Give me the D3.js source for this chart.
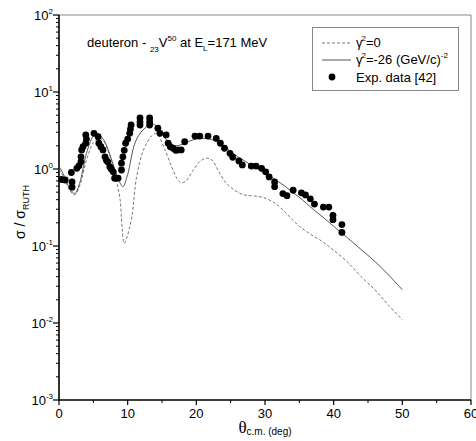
<!DOCTYPE html>
<html>
<head>
<meta charset="utf-8">
<script src="https://d3js.org/d3.v7.min.js"></script>
<style>
	body { margin: 0; background: #fff; }
	text { font-family: "Liberation Sans", Arial, sans-serif; }
</style>
</head>
<body>
<div id="chart"></div>
<script>
// experimental points [theta, sigma/sigma_ruth]
var expTheta = [0.4,0.9,1.8,1.9,1.9,2.6,2.9,3.2,3.2,3.3,3.5,3.9,3.9,4.0,5.1,5.7,5.8,6.1,6.4,6.7,6.9,7.1,7.4,7.6,7.9,8.1,8.3,8.6,9.1,9.1,9.3,9.5,9.7,10.0,10.3,10.4,10.5,11.8,11.8,11.8,13.2,13.2,13.2,14.4,14.7,15.6,15.9,16.2,16.6,17.0,17.3,17.8,18.3,19.8,20.5,21.7,22.9,23.5,24.1,24.9,25.3,26.2,26.7,28.0,28.7,29.5,30.1,30.6,31.4,31.4,32.6,33.2,34.1,35.3,35.9,36.6,37.2,38.5,39.3,39.9,39.9,41.2,41.2];
var expSigma = [0.73,0.72,0.90,0.68,0.58,1.02,1.10,1.24,1.44,1.77,1.95,2.16,2.77,2.45,2.91,2.63,2.16,1.95,1.77,1.44,1.30,1.24,1.07,1.00,0.92,0.76,0.76,0.76,0.97,1.19,1.44,1.75,2.16,2.45,2.91,3.3,3.73,4.6,4.1,3.73,4.6,4.1,3.73,3.38,2.91,2.77,2.16,1.95,1.86,1.75,1.77,1.77,2.26,2.68,2.68,2.68,2.5,2.16,1.86,1.6,1.42,1.27,1.13,1.09,1.09,1.02,0.92,0.79,0.68,0.59,0.48,0.45,0.53,0.49,0.46,0.41,0.35,0.32,0.32,0.25,0.22,0.19,0.15];

// gamma^2 = -26 (GeV/c)^-2
var solidTheta = [0,0.8,1.6,2.3,3.0,4.0,5.0,5.5,6.5,7.5,8.5,9.3,10.0,11.0,11.8,12.7,13.5,14.2,15.0,16.0,16.9,18.0,19.0,20.0,21.0,22.0,23.0,24.0,25.0,26.0,27.0,28.0,29.0,30.0,31.0,32.0,33.0,34.0,35.0,36.0,37.0,38.0,39.0,40.0,42.0,44.0,46.0,48.0,50.0];
var solidSigma = [1.09,0.8,0.55,0.48,0.65,1.6,2.7,2.9,2.4,1.45,0.8,0.59,0.85,2.1,2.9,3.5,3.9,3.6,2.9,2.2,2.0,2.1,2.3,2.45,2.5,2.45,2.25,1.95,1.7,1.45,1.28,1.12,1.0,0.88,0.78,0.68,0.59,0.5,0.43,0.36,0.3,0.255,0.215,0.18,0.128,0.09,0.063,0.042,0.027];

// gamma^2 = 0
var dashTheta = [0,0.8,1.6,2.3,3.0,4.0,5.0,5.8,6.5,7.5,8.3,8.9,9.2,9.5,9.9,10.6,11.3,12.3,13.5,14.2,15.4,16.4,17.2,17.8,18.5,19.5,20.5,21.5,22.3,23.2,24.2,25.0,26.0,27.0,28.0,29.0,30.0,31.0,32.0,33.0,34.0,35.0,36.0,37.0,38.0,39.0,40.0,42.0,44.0,46.0,48.0,50.0];
var dashSigma = [1.0,0.75,0.52,0.46,0.6,1.3,2.2,2.5,2.3,1.4,0.75,0.4,0.17,0.108,0.13,0.24,0.79,1.77,2.7,2.9,1.8,1.07,0.75,0.66,0.7,0.95,1.25,1.38,1.3,0.95,0.68,0.58,0.5,0.46,0.45,0.44,0.42,0.38,0.33,0.27,0.22,0.18,0.155,0.135,0.12,0.103,0.088,0.062,0.04,0.027,0.017,0.011];

var xTicks = [0,10,20,30,40,50,60];
var yDecades = [-3,-2,-1,0,1,2];

var w = 476,
	h = 441,
	svg = d3
		.select("#chart")
		.append("svg")
		.attr("width", w)
		.attr("height", h);

var margin = { top: 15, right: 5, bottom: 41, left: 59 };
var x = d3.scaleLinear().domain([0, 60]).range([margin.left, w - margin.right]);
var y = d3.scaleLog().domain([1e-3, 1e2]).range([h - margin.bottom, margin.top]);

// frame (top + right)
svg.append("path")
	.attr("d", `M${x(0)},${y(100)}H${x(60)}V${y(1e-3)}`)
	.attr("fill", "none")
	.attr("stroke", "#888")
	.attr("stroke-width", 1);

// minor log ticks
var minor = [];
yDecades.slice(0, -1).forEach(function(e){
	for (var k = 2; k <= 9; k++) minor.push(k * Math.pow(10, e));
});
svg.append("g").selectAll("line").data(minor).enter().append("line")
	.attr("x1", x(0) - 3).attr("x2", x(0))
	.attr("y1", function(d){ return y(d); })
	.attr("y2", function(d){ return y(d); })
	.attr("stroke", "#000");

var yg = svg.append("g").selectAll("g").data(yDecades).enter().append("g")
	.attr("transform", function(d){ return `translate(0,${y(Math.pow(10, d))})`; });
yg.append("line").attr("x1", x(0) - 6).attr("x2", x(0)).attr("stroke", "#000").attr("stroke-width", 1.2);
var yl = yg.append("text")
	.attr("x", x(0) - 6)
	.attr("y", 5)
	.attr("text-anchor", "end")
	.style("font-size", "13px");
yl.append("tspan").text("10");
yl.append("tspan").attr("dy", -6).style("font-size", "8px").text(function(d){ return d < 0 ? "-" + (-d) : d; });

// x ticks
var xg = svg.append("g").selectAll("g").data(xTicks).enter().append("g")
	.attr("transform", function(d){ return `translate(${x(d)},${y(1e-3)})`; });
xg.append("line").attr("y2", 5).attr("stroke", "#000").attr("stroke-width", 1.2);
xg.append("text").attr("y", 18).attr("text-anchor", "middle").style("font-size", "13px").text(function(d){ return d; });
svg.append("g").selectAll("line").data([5,15,25,35,45,55]).enter().append("line")
	.attr("x1", function(d){ return x(d); }).attr("x2", function(d){ return x(d); })
	.attr("y1", y(1e-3)).attr("y2", y(1e-3) + 3)
	.attr("stroke", "#000");

// axis lines
svg.append("path")
	.attr("d", `M${x(0)},${y(100)}V${y(1e-3)}H${x(60)}`)
	.attr("fill", "none")
	.attr("stroke", "#000")
	.attr("stroke-width", 1.6);

// curves
var line = d3.line()
	.x(function(d){ return x(d[0]); })
	.y(function(d){ return y(d[1]); })
	.curve(d3.curveCatmullRom);

svg.append("path")
	.datum(d3.zip(dashTheta, dashSigma))
	.attr("d", line)
	.attr("fill", "none")
	.attr("stroke", "#666")
	.attr("stroke-width", 0.9)
	.attr("stroke-dasharray", "3,2");

svg.append("path")
	.datum(d3.zip(solidTheta, solidSigma))
	.attr("d", line)
	.attr("fill", "none")
	.attr("stroke", "#444")
	.attr("stroke-width", 0.9);

svg.append("g").selectAll("circle").data(d3.zip(expTheta, expSigma)).enter().append("circle")
	.attr("cx", function(d){ return x(d[0]); })
	.attr("cy", function(d){ return y(d[1]); })
	.attr("r", 3.4)
	.attr("fill", "#000");

// title
var title = svg.append("text").attr("x", 87).attr("y", 47).style("font-size", "13px");
title.append("tspan").text("deuteron - ");
title.append("tspan").attr("dy", 5).style("font-size", "8px").text("23");
title.append("tspan").attr("dy", -5).text("V");
title.append("tspan").attr("dy", -6).style("font-size", "8px").text("50");
title.append("tspan").attr("dy", 6).text(" at E");
title.append("tspan").attr("dy", 4).style("font-size", "8px").text("L");
title.append("tspan").attr("dy", -4).text("=171 MeV");

// legend
var lg = svg.append("g");
lg.append("rect").attr("x", 312.5).attr("y", 27.5).attr("width", 146).attr("height", 63)
	.attr("fill", "#fff").attr("stroke", "#888");
lg.append("line").attr("x1", 322).attr("x2", 351).attr("y1", 43).attr("y2", 43)
	.attr("stroke", "#666").attr("stroke-dasharray", "3,2").attr("stroke-width", 0.9);
lg.append("line").attr("x1", 322).attr("x2", 351).attr("y1", 60).attr("y2", 60)
	.attr("stroke", "#444").attr("stroke-width", 0.9);
lg.append("circle").attr("cx", 332).attr("cy", 77).attr("r", 3.4).attr("fill", "#000");

var l1 = lg.append("text").attr("x", 356).attr("y", 47).style("font-size", "13px");
l1.append("tspan").text("γ");
l1.append("tspan").attr("dx", -1).attr("dy", -6).style("font-size", "8px").text("2");
l1.append("tspan").attr("dy", 6).text("=0");
var l2 = lg.append("text").attr("x", 356).attr("y", 64).style("font-size", "13px");
l2.append("tspan").text("γ");
l2.append("tspan").attr("dx", -1).attr("dy", -6).style("font-size", "8px").text("2");
l2.append("tspan").attr("dy", 6).text("=-26 (GeV/c)");
l2.append("tspan").attr("dy", -6).style("font-size", "8px").text("-2");
lg.append("text").attr("x", 356).attr("y", 82).style("font-size", "13px").text("Exp. data [42]");

// axis titles
var yt = svg.append("text")
	.attr("transform", `translate(25,212) rotate(-90)`)
	.attr("text-anchor", "middle")
	.style("font-size", "14px");
yt.append("tspan").text("σ / σ");
yt.append("tspan").attr("dy", 4).style("font-size", "9px").text("RUTH");

var xt = svg.append("text")
	.attr("x", 265)
	.attr("y", 433)
	.attr("text-anchor", "middle");
xt.append("tspan").style("font-family", "'Liberation Serif', serif").style("font-size", "17px").text("θ");
xt.append("tspan").attr("dy", 2).style("font-size", "10px").text("c.m. (deg)");
</script>
</body>
</html>
